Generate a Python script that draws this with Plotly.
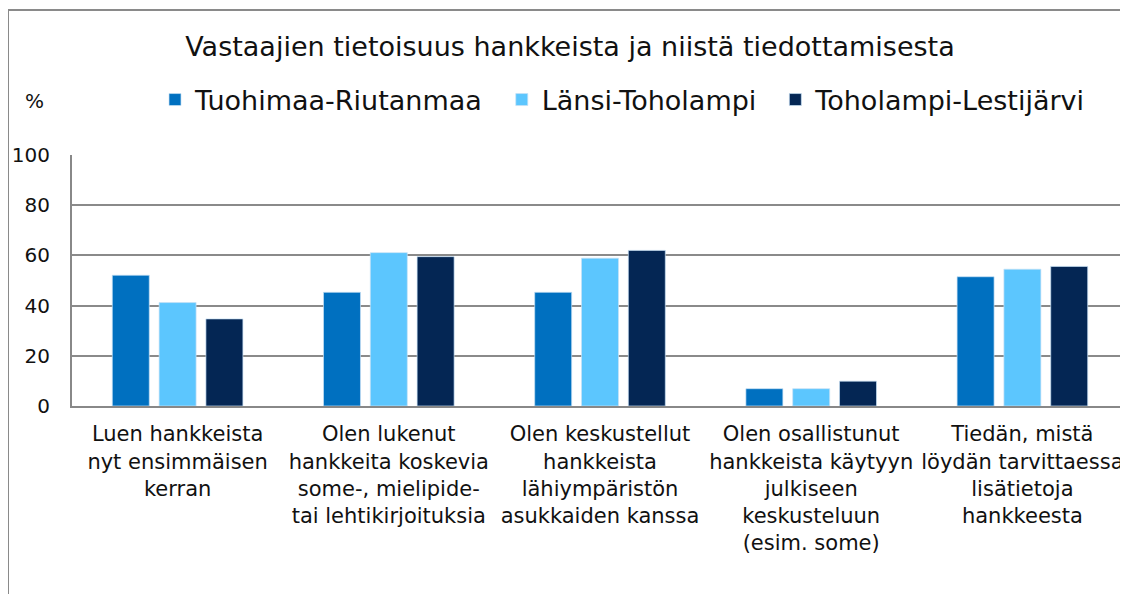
import plotly.graph_objects as go

categories = [
    "Luen hankkeista<br>nyt ensimmäisen<br>kerran",
    "Olen lukenut<br>hankkeita koskevia<br>some-, mielipide-<br>tai lehtikirjoituksia",
    "Olen keskustellut<br>hankkeista<br>lähiympäristön<br>asukkaiden kanssa",
    "Olen osallistunut<br>hankkeista käytyyn<br>julkiseen<br>keskusteluun<br>(esim. some)",
    "Tiedän, mistä<br>löydän tarvittaessa<br>lisätietoja<br>hankkeesta",
]
series_names = ["Tuohimaa-Riutanmaa", "Länsi-Toholampi", "Toholampi-Lestijärvi"]
tuohimaa = [52.1, 45.3, 45.3, 6.9, 51.5]
lansi = [41.2, 61.1, 58.9, 6.9, 54.5]
lestijarvi = [34.7, 59.5, 62.0, 9.9, 55.6]
colors = ["#0070C0", "#5CC6FE", "#042654"]
title_text = "Vastaajien tietoisuus hankkeista ja niistä tiedottamisesta"

FONT = "DejaVu Sans"
PAD = "\u00a0\u2009"
fig = go.Figure()
for name, vals, col in zip(series_names, [tuohimaa, lansi, lestijarvi], colors):
    fig.add_trace(go.Bar(
        x=categories, y=vals, name=name + PAD,
        marker=dict(color=col, line=dict(color="rgba(200,225,245,0.7)", width=1)),
    ))

# page body has an 8px margin; figure coords = screen coords - 8
OFF = 8
W, H = 1128 - OFF, 594 - OFF
L, T = 72 - OFF, 155 - OFF
bottom = 406 - OFF
B = H - bottom
R = 0
pw, ph = W - L - R, bottom - T

def px_x(sx):
    return (sx - OFF - L) / pw

def px_y(sy):
    return (bottom - (sy - OFF)) / ph

fig.update_layout(
    width=W, height=H,
    margin=dict(l=L, r=R, t=T, b=B, autoexpand=False),
    paper_bgcolor="white", plot_bgcolor="white",
    font=dict(family=FONT, color="#111111"),
    barmode="group", bargap=0.335, bargroupgap=0.21,
    title=dict(text=title_text, x=(570 - OFF) / W, xanchor="center",
               y=1 - (47 - OFF) / H, yanchor="middle",
               font=dict(family=FONT, size=27, color="#111111")),
    legend=dict(orientation="h", x=px_x(155), xanchor="left", y=px_y(100), yanchor="middle",
                font=dict(family=FONT, size=27, color="#111111"), traceorder="normal",
                bgcolor="rgba(0,0,0,0)", maxheight=1),
    xaxis=dict(showline=True, linecolor="#888888", linewidth=2, showgrid=False,
               tickfont=dict(family=FONT, size=21, color="#111111"), ticks="",
               ticklabelstandoff=8, fixedrange=True),
    yaxis=dict(range=[0, 100], dtick=20, showline=True, linecolor="#888888", linewidth=2,
               showgrid=True, gridcolor="#8a8a8a", gridwidth=1.5, zeroline=False,
               tickfont=dict(family=FONT, size=20, color="#111111"), ticks="",
               ticklabelstandoff=16, fixedrange=True),
    showlegend=True,
    annotations=[dict(text="%", xref="paper", yref="paper", x=px_x(34), y=px_y(101),
                      xanchor="center", yanchor="middle", showarrow=False,
                      font=dict(family=FONT, size=20, color="#111111"))],
    shapes=[
        dict(type="line", xref="paper", yref="paper",
             x0=px_x(8), x1=px_x(8), y0=px_y(10), y1=px_y(600),
             line=dict(color="#8a8a8a", width=2), layer="below"),
        dict(type="line", xref="paper", yref="paper",
             x0=px_x(8), x1=1.0, y0=px_y(10), y1=px_y(10),
             line=dict(color="#8a8a8a", width=2), layer="below"),
    ],
)
fig.write_html(
    "out.html",
    config={"displayModeBar": False},
    post_script="document.documentElement.style.overflow='hidden';document.body.style.overflow='hidden';",
)
